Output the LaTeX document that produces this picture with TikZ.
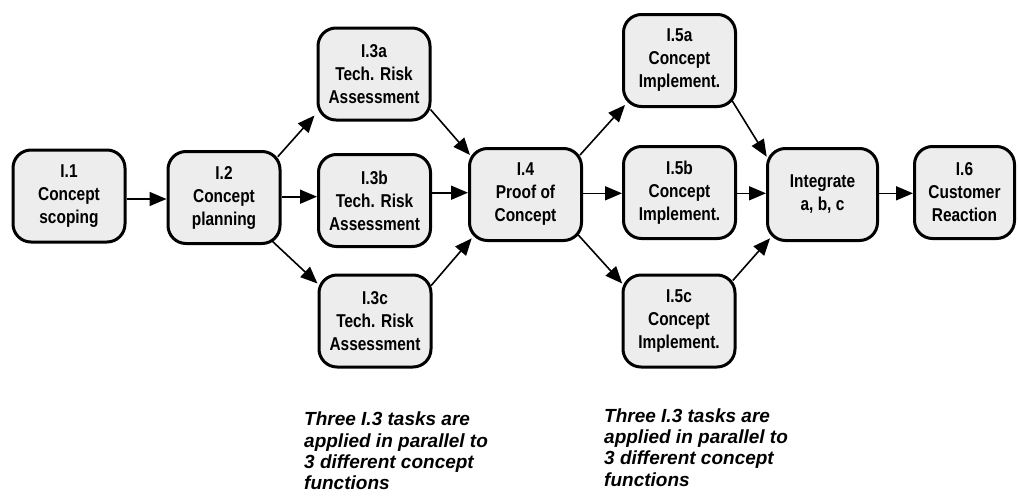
\documentclass[tikz,border=0pt]{standalone}
\usepackage{fontspec}
\usetikzlibrary{arrows.meta,calc}
\newfontfamily\boxfont{Liberation Sans}[FakeStretch=0.83]
\newfontfamily\notefont{Liberation Sans}
\definecolor{boxfill}{RGB}{237,237,237}

\begin{document}
\begin{tikzpicture}[x=1pt,y=-1pt,
  task/.style={draw, line width=3pt, fill=boxfill, rounded corners=18pt,
    minimum width=112pt, minimum height=92pt, inner sep=0pt, align=center,
    font=\boxfont\bfseries\fontsize{18.6}{23}\selectfont},
  flow/.style={line width=1.6pt, -{Triangle[length=17pt,width=14pt]}},
  note/.style={anchor=north west, inner sep=0pt, align=left,
    font=\notefont\bfseries\itshape\fontsize{19}{21.2}\selectfont}]
\path[use as bounding box] (0,0) rectangle (1018,496);

% task boxes
\node[task] (i1) at (69,196) {I.1\\Concept\\scoping};
\node[task] (i2) at (224,197.5) {I.2\\Concept\\planning};
\node[task] (i3a) at (374,74) {I.3a\\Tech. Risk\\Assessment};
\node[task] (i3b) at (374.5,200.5) {I.3b\\Tech. Risk\\Assessment};
\node[task] (i3c) at (375,321) {I.3c\\Tech. Risk\\Assessment};
\node[task] (i4) at (525.5,194.5) {I.4\\Proof of\\Concept};
\node[task] (i5a) at (679.5,60.5) {I.5a\\Concept\\Implement.};
\node[task] (i5b) at (679.5,192.5) {I.5b\\Concept\\Implement.};
\node[task] (i5c) at (679,321) {I.5c\\Concept\\Implement.};
\node[task, minimum width=110pt] (int) at (822.5,194.5) {Integrate\\a, b, c};
\node[task, minimum width=100pt] (i6) at (964.5,192.5) {I.6\\Customer\\Reaction};

% straight-ahead flow
\draw[flow] ($(i1.east)+(0,3)$) -- ($(i2.west)+(0,1.5)$);
\draw[flow] ($(i2.east)+(0,-0.8)$) -- ($(i3b.west)+(0,-3.8)$);
\draw[flow] ($(i3b.east)+(0,-7.8)$) -- ($(i4.west)+(0,-1.8)$);
\draw[flow] ($(i4.east)+(0,-1.2)$) -- ($(i5b.west)+(0,0.8)$);
\draw[flow] ($(i5b.east)+(0,0.8)$) -- ($(int.west)+(0,-1.2)$);
\draw[flow] ($(int.east)+(0,-1.2)$) -- ($(i6.west)+(0,0.8)$);

% fan-out and fan-in
\draw[flow] ($(i2.north east)+(-3.7,6.7)$) -- ($(i3a.south west)+(-2,-6)$);
\draw[flow] ($(i2.south east)+(-8.7,-3.3)$) -- ($(i3c.north west)+(0,10)$);
\draw[flow] ($(i3a.south east)+(-1,-12)$) -- ($(i4.north west)+(2,8)$);
\draw[flow] ($(i3c.north east)+(-1.3,12)$) -- ($(i4.south west)+(3.7,-3.7)$);
\draw[flow] ($(i4.north east)+(-3,8)$) -- ($(i5a.south west)+(3,-3)$);
\draw[flow] ($(i4.south east)+(-4.7,-7)$) -- ($(i5c.north west)+(0.7,10)$);
\draw[flow] ($(i5a.south east)+(-5.3,-8)$) -- ($(int.north west)+(0.7,9.7)$);
\draw[flow] ($(i5c.north east)+(-3.7,7)$) -- ($(int.south west)+(4,-3.7)$);

% notes
\node[note] (n1) at (304,412) {Three I.3 tasks are\\applied in parallel to\\3 different concept\\functions};
\node[note] (n2) at (604,408.5) {Three I.3 tasks are\\applied in parallel to\\3 different concept\\functions};
\end{tikzpicture}
\end{document}
